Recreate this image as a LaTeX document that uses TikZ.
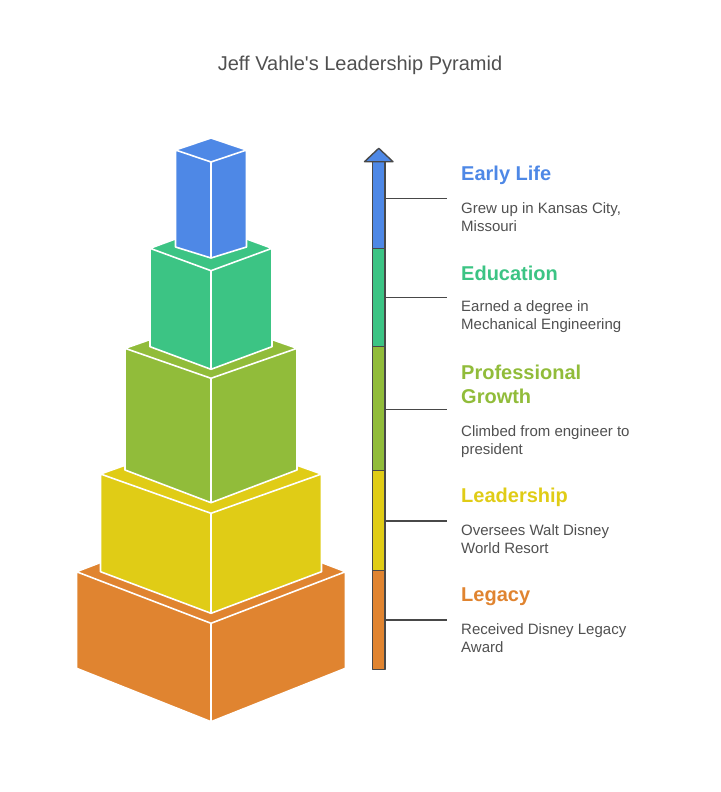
\documentclass[tikz,border=0pt]{standalone}
\usepackage{fontspec}
\setmainfont{Liberation Sans}
\definecolor{cblue}{RGB}{78,136,230}
\definecolor{cgreen}{RGB}{60,196,132}
\definecolor{colive}{RGB}{145,188,58}
\definecolor{cyellow}{RGB}{224,204,22}
\definecolor{corange}{RGB}{224,132,48}
\definecolor{cline}{RGB}{72,72,72}
\definecolor{ctext}{RGB}{80,80,80}
\tikzset{
	face/.style={draw=white,line width=1.6pt,line join=round},
	segbox/.style={draw=cline,line width=1.4pt,line join=round},
	tickline/.style={draw=cline,line width=1.4pt},
	headtext/.style={anchor=base west,inner sep=0pt,align=left,font=\fontsize{20}{24}\selectfont\bfseries},
	desctext/.style={anchor=base west,inner sep=0pt,align=left,text=ctext,font=\fontsize{15}{18}\selectfont},
	titletext/.style={anchor=base,inner sep=0pt,text=ctext,font=\fontsize{20}{24}\selectfont}
}
\begin{document}
\begin{tikzpicture}[x=1pt,y=-1pt]
	\useasboundingbox (0,0) rectangle (720,792);
	\def\cx{211}
	\def\bl{372.5}
	\def\br{385}
	\node[titletext] (title) at (360,70.7) {Jeff Vahle\textquotesingle s Leadership Pyramid};
	% blocks, from the bottom up
	\foreach \w/\yt/\yb/\dt/\db/\col in {134.5/571.7/668.3/51.6/53.4/corange,110.5/474/571.7/39.3/41.6/cyellow,86/348.3/470/30/32.7/colive,61/248.3/346.7/22.4/22.6/cgreen,35.5/150/247/12/11/cblue}
		\filldraw[face,fill=\col] (\cx-\w,\yt) -- (\cx,\yt-\dt) -- (\cx+\w,\yt) -- (\cx,\yt+\dt) -- cycle
			(\cx-\w,\yt) -- (\cx,\yt+\dt) -- (\cx,\yb+\db) -- (\cx-\w,\yb) -- cycle
			(\cx,\yt+\dt) -- (\cx+\w,\yt) -- (\cx+\w,\yb) -- (\cx,\yb+\db) -- cycle;
	% arrow and labels (base = last line)
	\foreach \n/\col/\top/\bot/\y/\hy/\dy/\head/\desc in {
		early/cblue/161.7/248.3/198.3/180.7/231.3/{Early Life}/{Grew up in Kansas City,\\Missouri},
		edu/cgreen/248.3/346.7/297.3/280/329.7/{Education}/{Earned a degree in\\Mechanical Engineering},
		growth/colive/346.7/470.7/409.3/403.3/454/{Professional\\Growth}/{Climbed from engineer to\\president},
		lead/cyellow/470.7/570.7/521/502.7/553/{Leadership}/{Oversees Walt Disney\\World Resort},
		legacy/corange/570.7/669.5/620/601.7/652/{Legacy}/{Received Disney Legacy\\Award}}{
		\draw[segbox,fill=\col] (\bl,\top) rectangle (\br,\bot);
		\coordinate (\n-a) at (\br,\y);
		\coordinate (\n-b) at (447.3,\y);
		\draw[tickline] (\n-a) -- (\n-b);
		\node[headtext,text=\col] (\n-head) at (461,\hy) {\head};
		\node[desctext] (\n-desc) at (461,\dy) {\desc};
	}
	\filldraw[segbox,fill=cblue] (364.5,161.7) -- (378.75,148.3) -- (393,161.7) -- cycle;
\end{tikzpicture}
\end{document}
